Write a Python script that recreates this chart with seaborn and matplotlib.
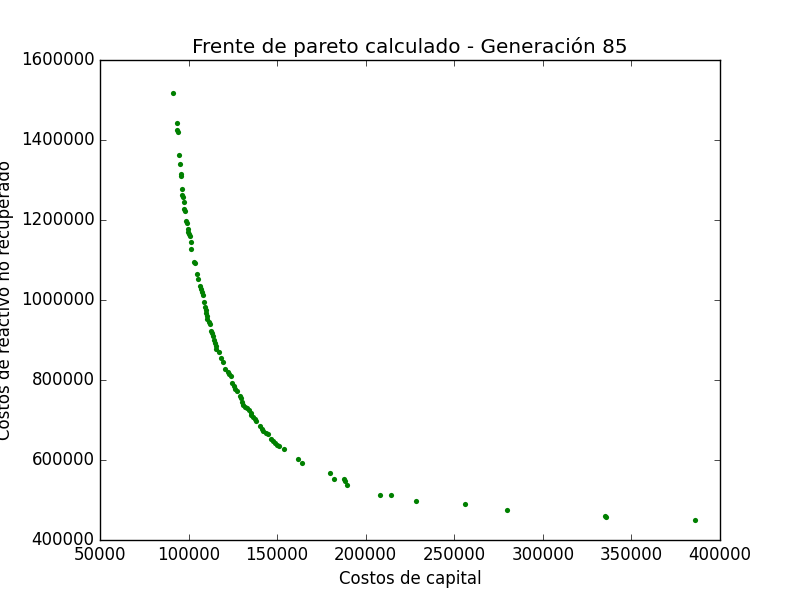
import matplotlib
matplotlib.use("Agg")
import matplotlib.pyplot as plt
import seaborn as sns
import pandas as pd

costos_capital = [
    91400, 93600, 93500, 94200, 94800, 95300, 95900, 95900, 96500, 96500,
    97000, 97600, 97600, 98200, 98700, 99300, 99800, 99800, 100100, 100600,
    101500, 101500, 103200, 103800, 104900, 105500, 106600, 106800, 107400, 108000,
    108900, 109400, 109800, 110000, 110200, 110600, 111400, 112300, 112800, 113100,
    113600, 114200, 114700, 115300, 115700, 117300, 118500, 119400, 120700, 122100,
    123000, 123800, 124700, 125500, 126200, 127200, 128900, 129400, 130200, 130700,
    131900, 133000, 134300, 135100, 135400, 136400, 137500, 138200, 140300, 141300,
    142200, 143700, 145000, 146500, 147800, 148800, 149900, 150900, 154000, 161900,
    164200, 180000, 182300, 187900, 188500, 189600, 208100, 214400, 228600, 256200,
    279900, 335100, 335800, 386000,
]
costos_reactivo = [
    1517000, 1442000, 1425000, 1419000, 1362000, 1339000, 1314000, 1311000, 1277000, 1262000,
    1257000, 1244000, 1228000, 1222000, 1197000, 1192000, 1177000, 1171000, 1165000, 1159000,
    1144000, 1127000, 1094000, 1092000, 1064000, 1052000, 1034000, 1027000, 1019000, 1012000,
    994000, 982000, 974000, 967000, 959000, 952000, 944000, 939000, 922000, 917000,
    909000, 900000, 892000, 884000, 878000, 869000, 854000, 845000, 827000, 821000,
    814000, 810000, 792000, 785000, 778000, 773000, 759000, 755000, 744000, 738000,
    733000, 729000, 725000, 718000, 713000, 708000, 703000, 698000, 684000, 678000,
    673000, 668000, 664000, 652000, 647000, 643000, 638000, 636000, 627000, 602000,
    592000, 567000, 552000, 552000, 547000, 537000, 512000, 512000, 497000, 489000,
    474000, 459000, 457000, 449000,
]

titulo = "Frente de pareto calculado - Generación 85"
etiqueta_x = "Costos de capital"
etiqueta_y = "Costos de reactivo no recuperado"

plt.style.use("classic")
plt.rcParams["font.family"] = ["DejaVu Sans"]

df = pd.DataFrame({"x": costos_capital, "y": costos_reactivo})

fig = plt.figure(figsize=(8, 6), dpi=100, facecolor="white")
ax = fig.add_subplot(111)
sns.scatterplot(data=df, x="x", y="y", ax=ax, color=(0, 0.5, 0), s=14,
                linewidth=0, marker="o")
ax.set_xlim(50000, 400000)
ax.set_ylim(400000, 1600000)
ax.set_xticks([50000, 100000, 150000, 200000, 250000, 300000, 350000, 400000])
ax.set_yticks([400000, 600000, 800000, 1000000, 1200000, 1400000, 1600000])
ax.ticklabel_format(style="plain", useOffset=False)
ax.set_title(titulo)
ax.set_xlabel(etiqueta_x)
ax.set_ylabel(etiqueta_y)
fig.savefig("out.png", dpi=100, facecolor="white")
